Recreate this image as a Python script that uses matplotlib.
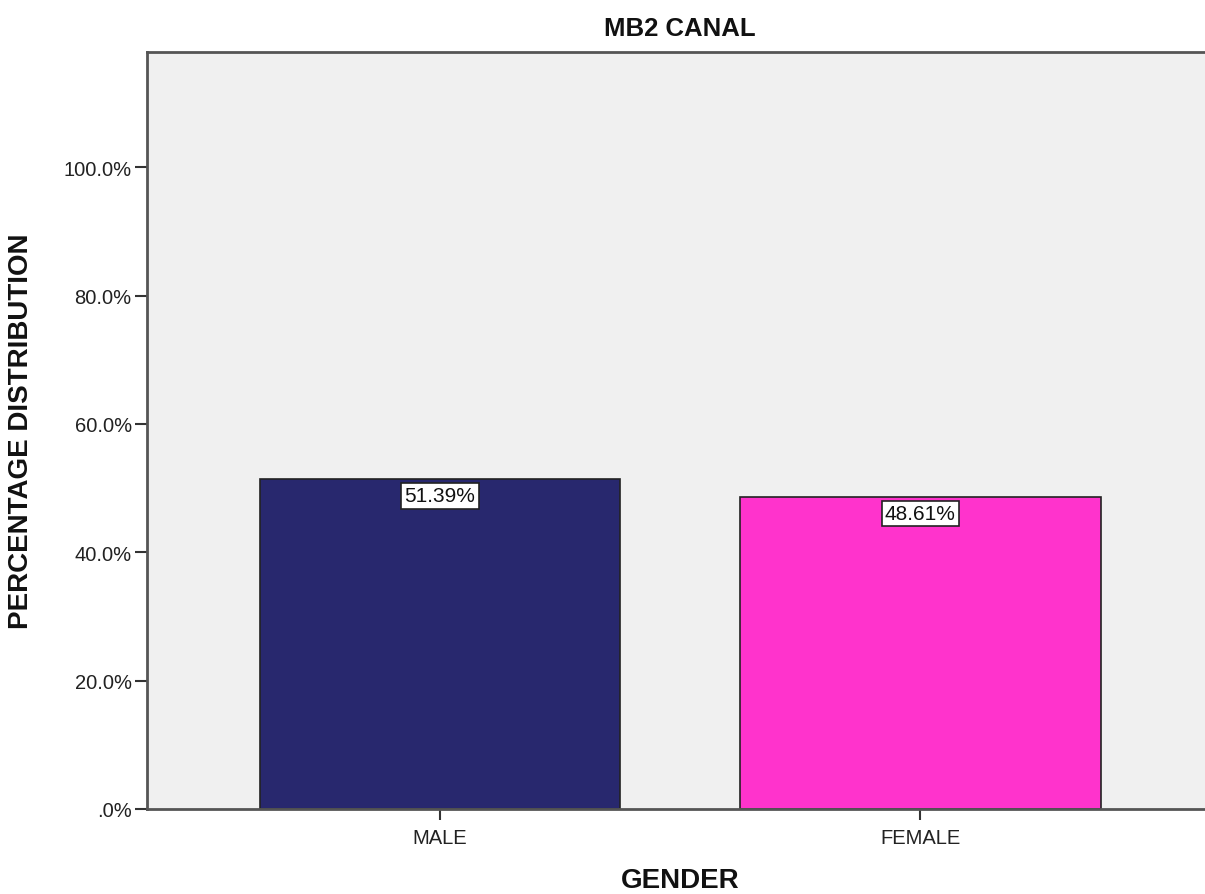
import matplotlib
matplotlib.use("Agg")
import matplotlib.pyplot as plt
from matplotlib.ticker import FuncFormatter

categories = ["MALE", "FEMALE"]
values = [51.39, 48.61]
colors = ["#28286E", "#FF33CC"]
yticks = [0, 20, 40, 60, 80, 100]

plt.rcParams['font.family'] = ['Liberation Sans', 'DejaVu Sans']

fig = plt.figure(figsize=(12.05, 8.95), dpi=100)
ax = fig.add_axes([0.122, 0.095, 0.885, 0.846])
ax.set_facecolor("#F0F0F0")

x = list(range(len(categories)))
ax.bar(x, values, width=0.75, color=colors, edgecolor="#222222", linewidth=1.2, zorder=2)
for xi, v in zip(x, values):
    ax.text(xi, v - 2.6, f"{v:.2f}%", ha="center", va="center", fontsize=15, color="#111111",
            bbox=dict(boxstyle="square,pad=0.15", facecolor="white", edgecolor="#222222", linewidth=1.2),
            zorder=3)

ax.set_xlim(-0.61, 1.61)
ax.set_ylim(0, 118)
ax.set_xticks(x)
ax.set_xticklabels(categories, fontsize=14.5, color="#222222")
ax.set_yticks(yticks)
ax.yaxis.set_major_formatter(FuncFormatter(lambda v, p: ".0%" if v == 0 else f"{v:.1f}%"))
ax.tick_params(axis="y", labelsize=14.5, labelcolor="#222222", length=9, width=1.5, color="#333333", pad=2)
ax.tick_params(axis="x", length=8, width=1.5, color="#333333", pad=6)
for s in ax.spines.values():
    s.set_color("#555555")
    s.set_linewidth(2)
ax.spines["right"].set_visible(False)

ax.set_title("MB2 CANAL", fontsize=18.5, fontweight="bold", pad=12, color="#111111")
ax.set_xlabel("GENDER", fontsize=20, fontweight="bold", color="#111111")
ax.set_ylabel("PERCENTAGE DISTRIBUTION", fontsize=20, fontweight="bold", color="#111111")
ax.xaxis.set_label_coords(0.5, -0.076)
ax.yaxis.set_label_coords(-0.106, 0.5)

fig.savefig("out.png", dpi=100)
